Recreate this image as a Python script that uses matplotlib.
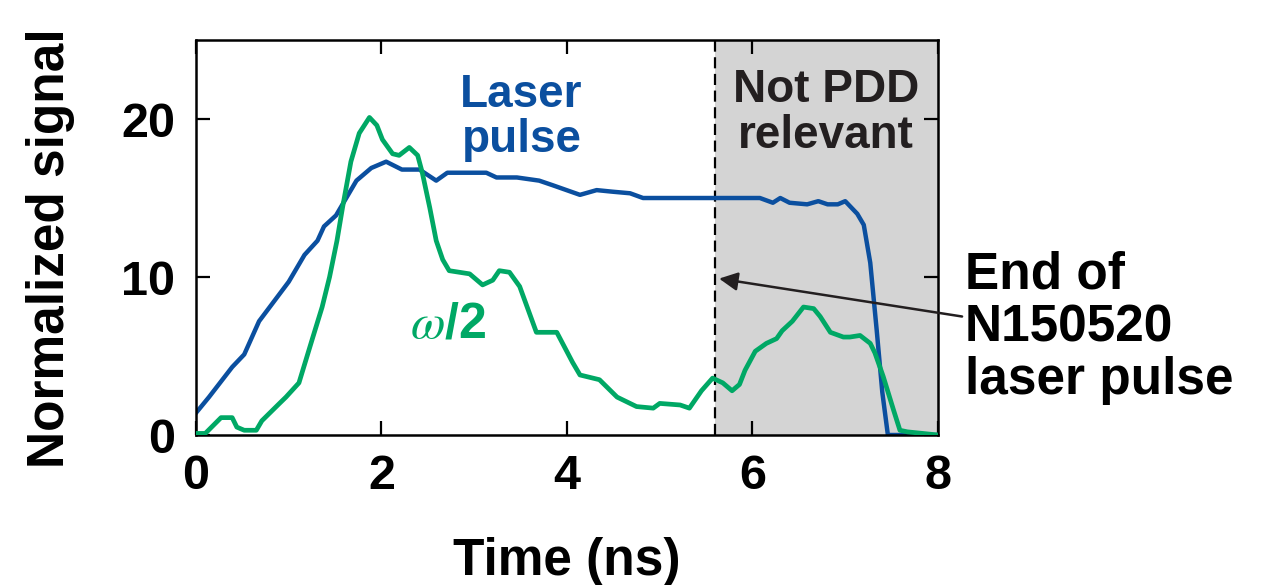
import matplotlib
matplotlib.use("Agg")
import matplotlib.pyplot as plt

plt.rcParams['font.family'] = ['Liberation Sans', 'DejaVu Sans']
plt.rcParams['mathtext.fontset'] = 'stix'

# laser pulse (blue)
t_blue = [0, 0.14, 0.39, 0.52, 0.68, 1.0, 1.17, 1.31, 1.38, 1.51,
          1.73, 1.89, 2.05, 2.22, 2.41, 2.59, 2.71, 2.95, 3.13, 3.24,
          3.46, 3.70, 3.85, 4.14, 4.32, 4.49, 4.68, 4.82, 5.57, 6.08,
          6.22, 6.30, 6.40, 6.59, 6.71, 6.81, 6.92, 7.00, 7.13, 7.20,
          7.27, 7.34, 7.40, 7.46, 8.0]
y_blue = [1.4, 2.4, 4.3, 5.1, 7.2, 9.7, 11.4, 12.3, 13.2, 13.9,
          16.1, 16.9, 17.3, 16.8, 16.8, 16.1, 16.6, 16.6, 16.6, 16.3,
          16.3, 16.1, 15.8, 15.2, 15.5, 15.4, 15.3, 15.0, 15.0, 15.0,
          14.7, 15.0, 14.7, 14.6, 14.8, 14.6, 14.6, 14.8, 14.0, 13.3,
          10.9, 6.6, 2.7, 0.0, 0.0]

# omega/2 signal (green)
t_green = [0, 0.1, 0.27, 0.39, 0.44, 0.52, 0.65, 0.71, 0.9, 0.97,
           1.11, 1.25, 1.36, 1.44, 1.52, 1.58, 1.67, 1.76, 1.87, 1.95,
           2.01, 2.12, 2.19, 2.30, 2.39, 2.44, 2.52, 2.59, 2.66, 2.73,
           2.95, 3.09, 3.20, 3.27, 3.38, 3.49, 3.67, 3.89, 4.06, 4.14,
           4.35, 4.54, 4.75, 4.93, 5.00, 5.22, 5.32, 5.45, 5.57, 5.68,
           5.78, 5.86, 5.92, 6.03, 6.15, 6.26, 6.32, 6.43, 6.55, 6.66,
           6.73, 6.84, 6.98, 7.05, 7.16, 7.27, 7.32, 7.41, 7.52, 7.59,
           7.67, 8.0]
y_green = [0.1, 0.1, 1.1, 1.1, 0.5, 0.3, 0.3, 0.9, 2.0, 2.4,
           3.3, 6.0, 8.1, 10.0, 12.3, 14.4, 17.3, 19.1, 20.1, 19.6,
           18.7, 17.8, 17.7, 18.2, 17.7, 16.6, 14.4, 12.3, 11.1, 10.4,
           10.2, 9.5, 9.8, 10.4, 10.3, 9.4, 6.5, 6.5, 4.6, 3.8,
           3.5, 2.4, 1.8, 1.7, 2.0, 1.9, 1.7, 2.8, 3.6, 3.3,
           2.8, 3.2, 4.1, 5.3, 5.8, 6.1, 6.6, 7.2, 8.1, 8.0,
           7.5, 6.5, 6.2, 6.2, 6.3, 5.8, 5.2, 3.7, 1.6, 0.3,
           0.2, 0.0]

t_end = 5.6
xticks = [0, 2, 4, 6, 8]
yticks = [0, 10, 20]

blue = '#0b4f9f'
green = '#00a865'

fig = plt.figure(figsize=(12.67, 5.85), dpi=100)
ax = fig.add_axes([0.1547, 0.2564, 0.5856, 0.6752])

ax.axvspan(t_end, 8, color='#d4d4d4', lw=0, zorder=0)
ax.axvline(t_end, color='black', lw=1.6, ls=(0, (5, 2.5)), zorder=1)

ax.plot(t_green, y_green, color=green, lw=3.4, zorder=3)
ax.plot(t_blue, y_blue, color=blue, lw=3.2, zorder=2)

ax.set_xlim(0, 8)
ax.set_ylim(0, 25)
ax.set_xticks(xticks)
ax.set_yticks(yticks)
ax.tick_params(direction='in', length=10, width=1.6, top=True, right=True,
               labelsize=35)
ax.tick_params(axis='x', pad=14)
ax.tick_params(axis='y', pad=15)
for lab in ax.get_xticklabels() + ax.get_yticklabels():
    lab.set_fontweight('bold')
for s in ax.spines.values():
    s.set_linewidth(1.8)

ax.set_xlabel('Time (ns)', fontsize=37, fontweight='bold', labelpad=27)
ax.set_ylabel('Normalized signal', fontsize=37, fontweight='bold')
ax.yaxis.set_label_coords(-0.163, 0.473)

ax.text(3.51, 20.1, 'Laser\npulse', color=blue, fontsize=33, fontweight='bold',
        ha='center', va='center', linespacing=1.05)
ax.text(6.79, 20.4, 'Not PDD\nrelevant', color='#231f20', fontsize=33,
        fontweight='bold', ha='center', va='center', linespacing=1.05)
ax.text(2.72, 7.0, r'$\mathit{\omega}$/2', color=green, fontsize=36,
        fontweight='bold', ha='center', va='center')

ax.annotate('', xy=(5.64, 9.9), xytext=(8.26, 7.5),
            arrowprops=dict(arrowstyle='-|>', color='#231f20', lw=1.8,
                            mutation_scale=28, shrinkA=0, shrinkB=0),
            annotation_clip=False)
ax.text(8.29, 6.8, 'End of\nN150520\nlaser pulse', fontsize=37,
        fontweight='bold', ha='left', va='center', linespacing=1.1,
        clip_on=False)

fig.savefig('out.png', dpi=100)
